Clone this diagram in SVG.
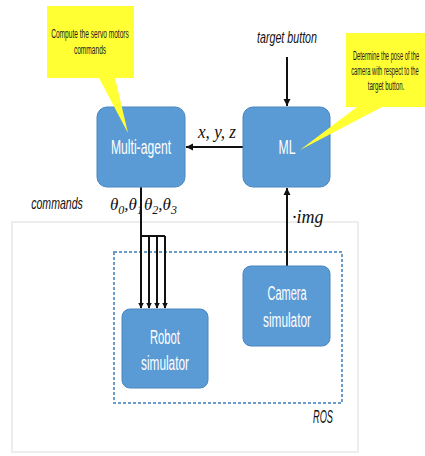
<svg xmlns="http://www.w3.org/2000/svg" width="425" height="456" viewBox="0 0 425 456">
<style>
.box{fill:#5b9bd5;stroke:#4a86bf;stroke-width:1}
.bt{font-family:"Liberation Sans",Arial,sans-serif;fill:#fff;font-size:20px;text-anchor:middle}
.call{fill:#ffff33;stroke:none}
.ct{font-family:"Liberation Sans",Arial,sans-serif;font-size:12px;fill:#222;text-anchor:middle}
.it{font-family:"Liberation Sans",Arial,sans-serif;font-style:italic;fill:#111}
.mt{font-family:"Liberation Serif","Times New Roman",serif;font-style:italic;fill:#111}
.ln{stroke:#111;stroke-width:2;fill:none}
</style>
<defs>
<marker id="ah" markerWidth="8" markerHeight="8" refX="7" refY="4" orient="auto" markerUnits="userSpaceOnUse">
<path d="M0,0.5 L7,4 L0,7.5 Z" fill="#111"/>
</marker>
<marker id="ahs" markerWidth="6" markerHeight="6" refX="5.5" refY="3" orient="auto" markerUnits="userSpaceOnUse">
<path d="M0,0 L6,3 L0,6 Z" fill="#111"/>
</marker>
</defs>
<rect x="0" y="0" width="425" height="456" fill="#fff"/>
<rect x="12" y="222" width="346" height="230" fill="none" stroke="#e8e8e8" stroke-width="1.5"/>
<rect id="ros" x="114" y="252" width="228" height="151" fill="none" stroke="#6a9bc9" stroke-width="2" stroke-dasharray="3,2"/>
<text class="it" x="323" y="423" font-size="19" text-anchor="middle" textLength="20" lengthAdjust="spacingAndGlyphs">ROS</text>

<g id="connectors">
<line class="ln" x1="287" y1="57" x2="287" y2="106" marker-end="url(#ah)"/>
<line class="ln" x1="243" y1="147" x2="186" y2="147" stroke-width="2.5" marker-end="url(#ah)"/>
<line class="ln" x1="287" y1="266" x2="287" y2="188" marker-end="url(#ah)"/>
<path class="ln" d="M141,187 V236 H165" stroke-width="1.6"/>
<line class="ln" x1="141" y1="236" x2="141" y2="308" stroke-width="1.6" marker-end="url(#ahs)"/>
<line class="ln" x1="149" y1="236" x2="149" y2="308" stroke-width="1.6" marker-end="url(#ahs)"/>
<line class="ln" x1="157" y1="236" x2="157" y2="308" stroke-width="1.6" marker-end="url(#ahs)"/>
<line class="ln" x1="165" y1="236" x2="165" y2="308" stroke-width="1.6" marker-end="url(#ahs)"/>
<text class="mt" x="217" y="138" font-size="18" text-anchor="middle" textLength="38" lengthAdjust="spacingAndGlyphs">x, y, z</text>
<text class="it" x="287" y="43" font-size="16" text-anchor="middle" textLength="60" lengthAdjust="spacingAndGlyphs">target button</text>
<text class="it" transform="translate(57,209) scale(0.66,1)" x="0" y="0" font-size="16" text-anchor="middle">commands</text>
<text class="mt" x="110" y="210" font-size="17">θ<tspan font-size="12" dy="4">0</tspan><tspan dy="-4">,θ</tspan><tspan font-size="12" dy="4">1</tspan></text>
<text class="mt" x="144" y="210" font-size="17">θ<tspan font-size="12" dy="4">2</tspan><tspan dy="-4">,θ</tspan><tspan font-size="12" dy="4">3</tspan></text>
<text class="mt" x="292" y="223" font-size="18">·img</text>
</g>

<g id="multi-agent">
<rect class="box" x="97" y="107" width="88" height="80" rx="10"/>
<text class="bt" x="141" y="154" textLength="60" lengthAdjust="spacingAndGlyphs">Multi-agent</text>
</g>
<g id="ml">
<rect class="box" x="243" y="107" width="87" height="80" rx="10"/>
<text class="bt" x="287" y="154" textLength="17" lengthAdjust="spacingAndGlyphs">ML</text>
</g>
<g id="robot-simulator">
<rect class="box" x="122" y="309" width="86" height="79" rx="8"/>
<text class="bt" x="165" y="344" textLength="30" lengthAdjust="spacingAndGlyphs">Robot</text>
<text class="bt" x="165" y="370" textLength="48" lengthAdjust="spacingAndGlyphs">simulator</text>
</g>
<g id="camera-simulator">
<rect class="box" x="243" y="266" width="87" height="80" rx="8"/>
<text class="bt" x="287" y="300" textLength="39" lengthAdjust="spacingAndGlyphs">Camera</text>
<text class="bt" x="287" y="327" textLength="48" lengthAdjust="spacingAndGlyphs">simulator</text>
</g>

<g id="callout-servo">
<path class="call" d="M47,6 H134 V78 H115 L128,133 L99,78 H47 Z"/>
<text class="ct" transform="translate(90,38) scale(0.55,1)" x="0" y="0">Compute the servo motors</text>
<text class="ct" transform="translate(90,54) scale(0.55,1)" x="0" y="0">commands</text>
</g>
<g id="callout-pose">
<path class="call" d="M346,33 H425 V107 H382 L300,150 L357,107 H346 Z"/>
<text class="ct" transform="translate(386,60) scale(0.48,1)" x="0" y="0">Determine the pose of the</text>
<text class="ct" transform="translate(385,75) scale(0.48,1)" x="0" y="0">camera with respect to the</text>
<text class="ct" transform="translate(386,90) scale(0.52,1)" x="0" y="0">target button.</text>
</g>
</svg>
